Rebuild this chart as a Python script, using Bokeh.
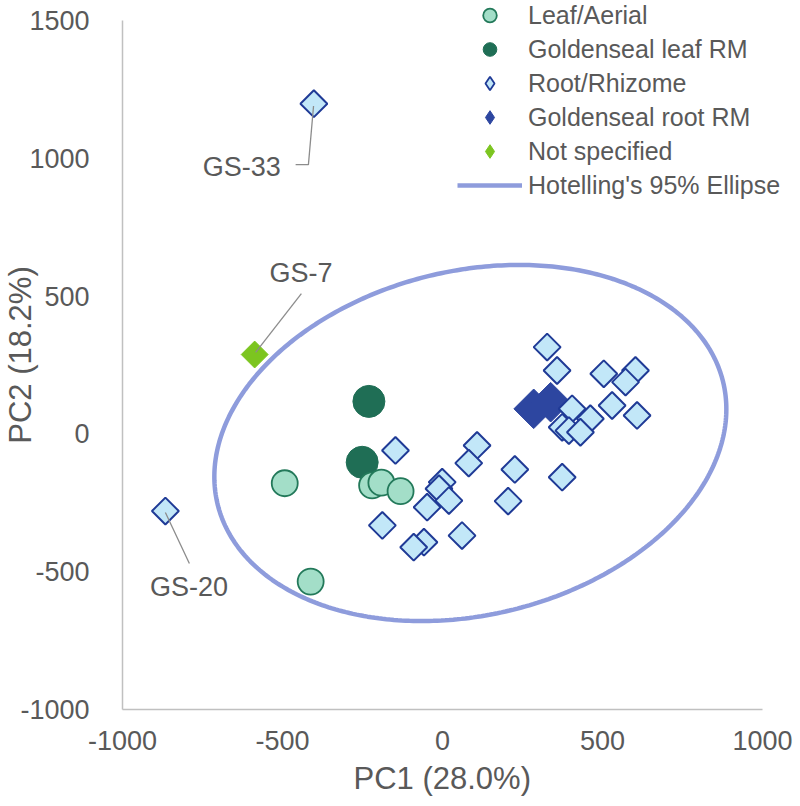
import numpy as np
from bokeh.plotting import figure
from bokeh.models import (Range1d, Legend, LegendItem, FixedTicker, ColumnDataSource, Title)
from bokeh.embed import file_html
from bokeh.resources import INLINE
from bokeh.core.properties import value

# ---------------- data ----------------
leaf_x = [-493, -412, -220, -191, -131]
leaf_y = [-179, -536, -187, -177, -208]

leafrm_x = [-230, -251]
leafrm_y = [118, -103]

root_x = [-402, -866, -147, 108, 82, 226, 205, -1, -11, 20, -48, -188, 61, -58, -90,
          327, 358, 504, 603, 572, 405, 462, 530, 608, 374, 395, 431, 374]
root_y = [1198, -280, -60, -42, -106, -129, -244, -175, -199, -242, -266, -332, -369, -393, -411,
          315, 230, 218, 230, 188, 91, 55, 103, 67, 24, 12, 6, -157]

rootrm_x = [285, 338]
rootrm_y = [91, 115]

ns_x = [-587]
ns_y = [288]

# Hotelling's 95% ellipse: centre, half-extents, correlation
ell_cx, ell_cy = 87, -33
ell_hx, ell_hy = 800, 646
ell_rho = 0.19

# sample labels and leader lines
lab_names = ["GS-33", "GS-7", "GS-20"]
lab_x = [-627, -442, -792]
lab_y = [968, 585, -557]
lead_xs = [[-459, -419, -403], [-441, -584], [-791, -866]]
lead_ys = [[977, 977, 1190], [509, 296], [-470, -285]]

x_min, x_max = -1000, 1000
y_min, y_max = -1000, 1500
x_ticks = [-1000, -500, 0, 500, 1000]
x_tick_labels = ["-1000", "-500", "0", "500", "1000"]
y_ticks = [-1000, -500, 0, 500, 1000, 1500]
y_tick_labels = ["-1000", "-500", "0", "500", "1000", "1500"]

legend_labels = ["Leaf/Aerial", "Goldenseal leaf RM", "Root/Rhizome",
                 "Goldenseal root RM", "Not specified", "Hotelling's 95% Ellipse"]

# ---------------- layout (pixels) ----------------
W, H = 800, 804
LEFT, BOTTOM = 122, 95
AX_W, AX_H = 640, 689        # pixel length of the bounded axes
TOP_PAD = 20                 # frame extends above the y axis (room for legend)
RIGHT_PAD = W - LEFT - AX_W  # frame extends right of the x axis
x_scale = AX_W / (x_max - x_min)
y_scale = AX_H / (y_max - y_min)

FONT = "Liberation Sans"
TXT = "#595959"
LEAF_FILL, LEAF_LINE = "#A3DEC8", "#23795A"
LEAFRM = "#1F6E55"
ROOT_FILL, ROOT_LINE = "#C2E7F8", "#1F3A96"
ROOTRM = "#2D46A0"
NS = "#7CC520"
ELL = "#8E9CDC"

p = figure(width=W, height=H, output_backend="svg", toolbar_location=None,
           x_range=Range1d(x_min, x_max + RIGHT_PAD / x_scale),
           y_range=Range1d(y_min, y_max + TOP_PAD / y_scale),
           min_border_left=LEFT, min_border_right=0, min_border_top=0,
           min_border_bottom=BOTTOM)
p.outline_line_color = None
p.xgrid.visible = False
p.ygrid.visible = False
p.background_fill_color = "white"
p.border_fill_color = "white"

# ellipse
t = np.linspace(0, 2 * np.pi, 400)
ex = ell_cx + ell_hx * np.cos(t)
ey = ell_cy + ell_hy * (ell_rho * np.cos(t) + np.sqrt(1 - ell_rho ** 2) * np.sin(t))
r_ell = p.line(ex, ey, line_color=ELL, line_width=4.5)

# points
r_leafrm = p.scatter(leafrm_x, leafrm_y, marker="circle", size=32, fill_color=LEAFRM,
                     line_color=LEAFRM, line_width=1)
r_leaf = p.scatter(leaf_x, leaf_y, marker="circle", size=26, fill_color=LEAF_FILL,
                   line_color=LEAF_LINE, line_width=1.8)
rootrm_src = ColumnDataSource(dict(x=rootrm_x, y=rootrm_y))
root_src = ColumnDataSource(dict(x=root_x, y=root_y))
ns_src = ColumnDataSource(dict(x=ns_x, y=ns_y))
p.scatter("x", "y", source=rootrm_src, marker="square", angle=np.pi / 4, size=28,
          fill_color=ROOTRM, line_color=ROOTRM, line_width=1)
p.scatter("x", "y", source=root_src, marker="square", angle=np.pi / 4, size=19,
          fill_color=ROOT_FILL, line_color=ROOT_LINE, line_width=2)
p.scatter("x", "y", source=ns_src, marker="square", angle=np.pi / 4, size=19,
          fill_color=NS, line_color=NS, line_width=1)

# leaders and labels
p.multi_line(xs=lead_xs, ys=lead_ys, line_color="#8C8C8C", line_width=1.3)
p.text(x=lab_x, y=lab_y, text=lab_names, text_font=value(FONT),
       text_font_size="27px", text_color=TXT, text_align="center",
       text_baseline="middle")

# legend proxies: diamond markers of zero size in the plot (legend sizes its own)
g3 = p.scatter("x", "y", source=root_src, marker="diamond", size=0,
               fill_color=ROOT_FILL, line_color=ROOT_LINE, line_width=1.8)
g4 = p.scatter("x", "y", source=rootrm_src, marker="diamond", size=0,
               fill_color=ROOTRM, line_color=ROOTRM, line_width=1)
g5 = p.scatter("x", "y", source=ns_src, marker="diamond", size=0,
               fill_color=NS, line_color=NS, line_width=1)

items = [LegendItem(label=l, renderers=[r]) for l, r in
         zip(legend_labels, [r_leaf, r_leafrm, g3, g4, g5, r_ell])]
legend = Legend(items=items, location=(335, AX_H + TOP_PAD - 202),
                glyph_width=65, glyph_height=34,
                spacing=0, label_standoff=6, padding=0, margin=0,
                border_line_color=None, background_fill_alpha=0,
                label_text_font=FONT, label_text_font_size="25px",
                label_text_color=TXT, label_height=30)
p.add_layout(legend)

# axes
p.xaxis.ticker = FixedTicker(ticks=x_ticks)
p.yaxis.ticker = FixedTicker(ticks=y_ticks)
p.xaxis.bounds = (x_min, x_max)
p.yaxis.bounds = (y_min, y_max)
p.xaxis.major_label_overrides = dict(zip(x_ticks, x_tick_labels))
p.yaxis.major_label_overrides = dict(zip(y_ticks, y_tick_labels))
for ax in (p.xaxis[0], p.yaxis[0]):
    ax.major_tick_line_color = None
    ax.minor_tick_line_color = None
    ax.axis_line_color = "#C0C0C0"
    ax.axis_line_width = 1.5
    ax.major_label_text_font = FONT
    ax.major_label_text_font_size = "27px"
    ax.major_label_text_color = TXT
    ax.axis_label_text_font = FONT
    ax.axis_label_text_font_size = "31px"
    ax.axis_label_text_font_style = "normal"
    ax.axis_label_text_color = TXT
p.xaxis.major_label_standoff = 15
p.yaxis.major_label_standoff = 27
p.yaxis.axis_label = "PC2 (18.2%)"
p.yaxis.axis_label_standoff = -21

xtitle = Title(text="PC1 (28.0%)", align="left", vertical_align="bottom",
               offset=231, standoff=12, text_font=FONT, text_font_size="31px",
               text_font_style="normal", text_color=TXT)
p.add_layout(xtitle, "below")

open("out.html", "w").write(file_html(p, INLINE))
